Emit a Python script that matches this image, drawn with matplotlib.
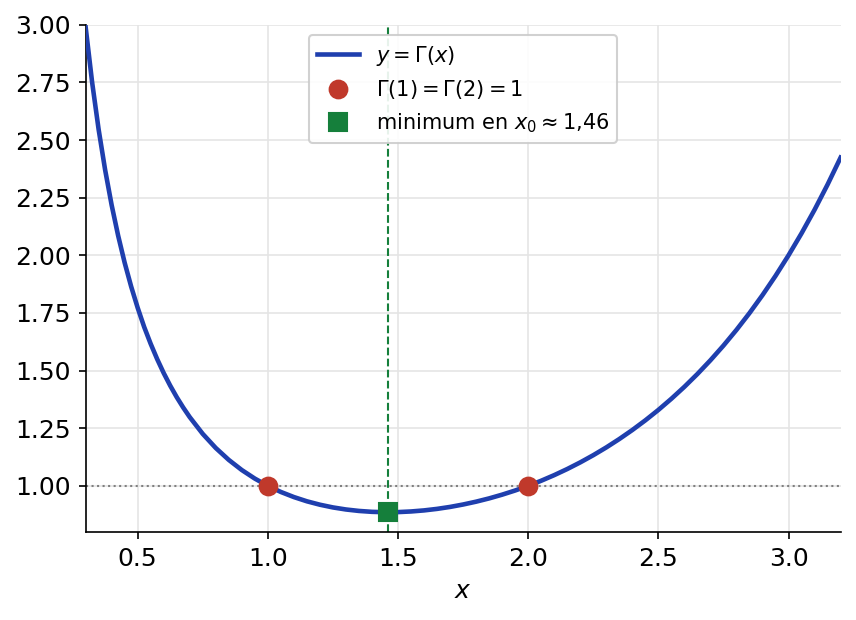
import numpy as np
from matplotlib import pyplot as plt

# Gamma values
x = [0.300, 0.325, 0.350, 0.375, 0.400, 0.425, 0.450, 0.475, 0.500, 0.525,
     0.550, 0.575, 0.600, 0.625, 0.650, 0.675, 0.700, 0.750, 0.800, 0.850,
     0.900, 0.950, 1.000, 1.050, 1.100, 1.150, 1.200, 1.250, 1.300, 1.350,
     1.400, 1.450, 1.500, 1.550, 1.600, 1.650, 1.700, 1.750, 1.800, 1.850,
     1.900, 1.950, 2.000, 2.050, 2.100, 2.150, 2.200, 2.250, 2.300, 2.350,
     2.400, 2.450, 2.500, 2.550, 2.600, 2.650, 2.700, 2.750, 2.800, 2.850,
     2.900, 2.950, 3.000, 3.050, 3.100, 3.150, 3.200]
y = [2.9916, 2.7510, 2.5462, 2.3707, 2.2182, 2.0854, 1.9681, 1.8646, 1.7725, 1.6891,
     1.6161, 1.5496, 1.4892, 1.4346, 1.3848, 1.3396, 1.2981, 1.2254, 1.1642, 1.1125,
     1.0686, 1.0315, 1.0000, 0.9735, 0.9514, 0.9330, 0.9182, 0.9064, 0.8975, 0.8912,
     0.8873, 0.8857, 0.8862, 0.8889, 0.8935, 0.9001, 0.9086, 0.9191, 0.9314, 0.9456,
     0.9618, 0.9799, 1.0000, 1.0222, 1.0465, 1.0730, 1.1018, 1.1330, 1.1667, 1.2031,
     1.2422, 1.2842, 1.3293, 1.3778, 1.4296, 1.4852, 1.5447, 1.6084, 1.6765, 1.7494,
     1.8274, 1.9108, 2.0000, 2.0955, 2.1976, 2.3070, 2.4240]
pts_x = [1.0, 2.0]
pts_y = [1.0, 1.0]
x0, y0 = 1.4616, 0.8856

blue = "#1f3fae"
red = "#c0392b"
green = "#157f3b"

fig, ax = plt.subplots(figsize=(856/150, 620/150), dpi=150)
ax.plot(x, y, color=blue, lw=2.2, label=r"$y = \Gamma(x)$", zorder=3,
        solid_joinstyle="round")
ax.axhline(1.0, color="gray", ls=":", lw=1, zorder=2)
ax.axvline(x0, color=green, ls="--", lw=1, zorder=2)
ax.plot(pts_x, pts_y, "o", color=red, ms=8.5, ls="none",
        label=r"$\Gamma(1) = \Gamma(2) = 1$", zorder=4)
ax.plot([x0], [y0], "s", color=green, ms=8.5, ls="none",
        label=r"minimum en $x_0 \approx 1{,}46$", zorder=4)

ax.set_xlim(0.3, 3.2)
ax.set_ylim(0.8, 3.0)
ax.set_yticks(np.arange(1.0, 3.01, 0.25))
ax.set_xlabel(r"$x$", fontsize=12)
ax.tick_params(labelsize=12)
ax.grid(True, color="#e5e5e5", lw=0.8)
ax.set_axisbelow(True)
ax.spines["top"].set_visible(False)
ax.spines["right"].set_visible(False)
ax.legend(loc="upper center", fontsize=10, framealpha=0.9)

fig.subplots_adjust(left=0.1, right=0.982, top=0.96, bottom=0.142)
fig.savefig("out.png", dpi=150)
